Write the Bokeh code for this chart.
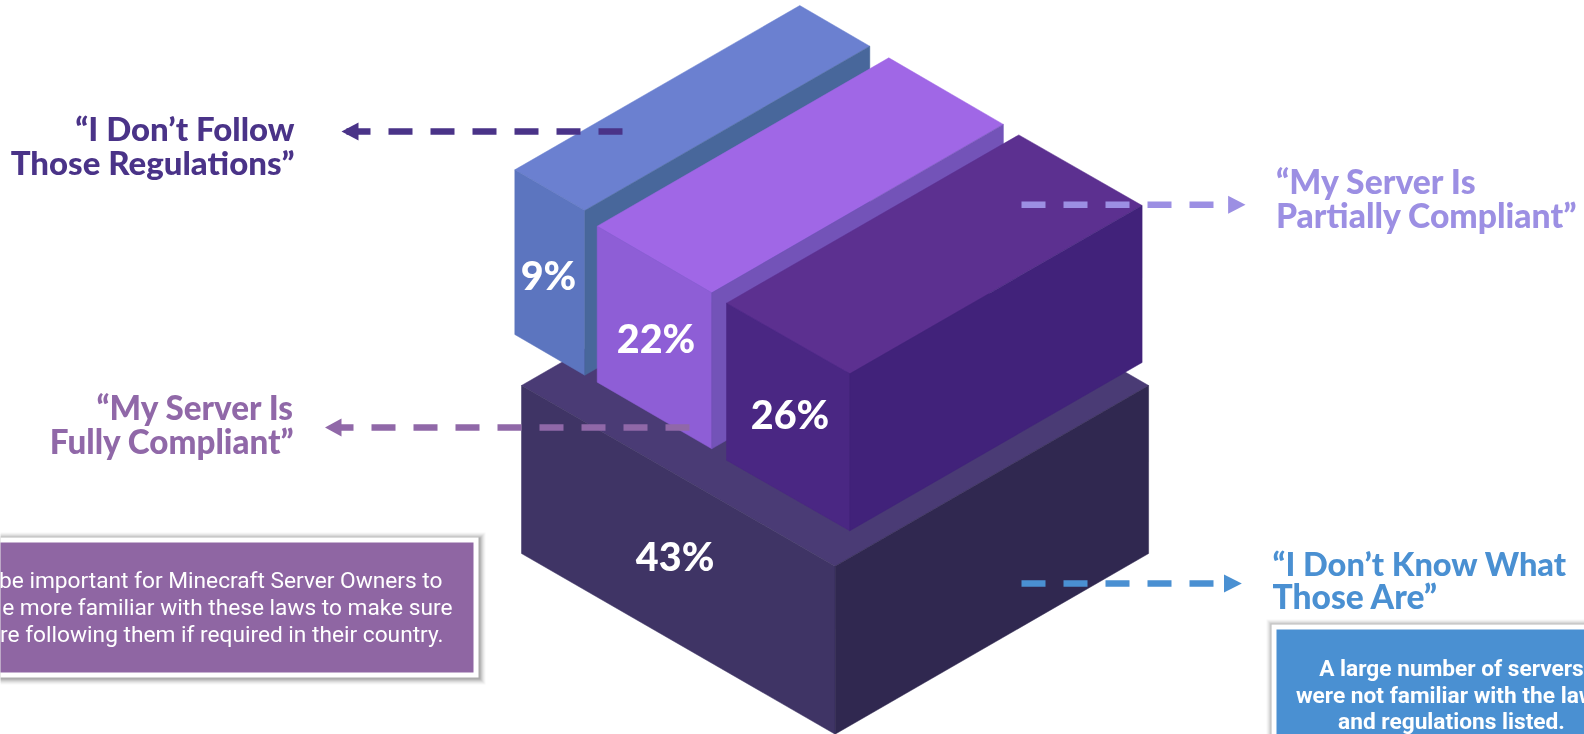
from bokeh.plotting import figure
from bokeh.models import Range1d, ColumnDataSource
from bokeh.embed import file_html
from bokeh.resources import INLINE
from bokeh.core.properties import value

# ---- data ----
categories = ["I Don't Know What Those Are", "I Don't Follow Those Regulations",
              "My Server Is Fully Compliant", "My Server Is Partially Compliant"]
shares = [43, 9, 22, 26]

# ---- block geometry (page pixels): left corner, front edge run, depth run, height ----
blk_lx = [521.0, 514.3, 596.7, 726.0]
blk_ly = [385.0, 169.3, 225.7, 302.7]
blk_wx = [313.6, 70.0, 114.6, 123.3]
blk_wy = [180.7, 40.7, 66.6, 70.6]
blk_dx = [313.5, 285.0, 291.6, 292.3]
blk_dy = [-180.7, -164.3, -168.4, -168.3]
blk_h = [168.0, 164.7, 156.0, 157.0]
col_top = ["#4a3b75", "#6b80d0", "#a067e6", "#5c3090"]
col_left = ["#3f3465", "#5c75bf", "#8e5ed6", "#4a2783"]
col_right = ["#302850", "#48679b", "#7353b8", "#41227a"]
pct_x = [674.6, 548.0, 655.5, 789.5]
pct_y = [568.3, 287.0, 350.0, 426.0]

W, H = 1584, 734
BASE_SHIFT = 0.33   # share of the font size by which the text sits below the given y

p = figure(width=W, height=H, output_backend="svg", toolbar_location=None,
           x_range=Range1d(0, W), y_range=Range1d(H, 0), min_border=0,
           x_axis_type=None, y_axis_type=None, outline_line_color=None,
           background_fill_color="white", border_fill_color="white")
p.grid.visible = False
p.styles = {"position": "fixed", "left": "0px", "top": "0px"}

# ---- isometric blocks ----
xs, ys, cs = [], [], []
for i in range(len(shares)):
    lx, ly, wx, wy, dx, dy, h = (blk_lx[i], blk_ly[i], blk_wx[i], blk_wy[i],
                                 blk_dx[i], blk_dy[i], blk_h[i])
    fx, fy = lx + wx, ly + wy
    xs += [[lx, fx, fx + dx, lx + dx], [lx, fx, fx, lx], [fx, fx + dx, fx + dx, fx]]
    ys += [[ly, fy, fy + dy, ly + dy], [ly, fy, fy + h, ly + h], [fy, fy + dy, fy + dy + h, fy + h]]
    cs += [col_top[i], col_left[i], col_right[i]]
p.patches(xs="xs", ys="ys", fill_color="cs", line_color="cs", line_width=0.5,
          source=ColumnDataSource(dict(xs=xs, ys=ys, cs=cs)))

# ---- text helper ----
def label(x, y, t, c, align, size, font="Lato Black", style="normal"):
    p.text(x=[x], y=[y - BASE_SHIFT * size], text=[t], text_color=c, text_font=value(font),
           text_font_style=style, text_font_size=f"{size}px", text_align=align,
           text_baseline="alphabetic")

# ---- percent labels ----
for px, py, v in zip(pct_x, pct_y, shares):
    label(px, py, f"{v}%", "white", "center", 39.5)

# ---- dashed leader arrows ----
arrows = [
    dict(y=131.0, x0=622, x1=346, tip=341, base=358, color="#4a3388"),
    dict(y=427.0, x0=689, x1=331, tip=324.5, base=341, color="#9068a8"),
    dict(y=204.3, x0=1021, x1=1213, tip=1245, base=1227.6, color="#9c8fe3"),
    dict(y=583.0, x0=1021, x1=1213, tip=1241.3, base=1223.5, color="#4a90d2"),
]
for a in arrows:
    p.line([a["x0"], a["x1"]], [a["y"], a["y"]], line_color=a["color"], line_width=6.5,
           line_dash="24 18", line_cap="butt")
    p.patch([a["tip"], a["base"], a["base"]], [a["y"], a["y"] - 9, a["y"] + 9],
            fill_color=a["color"], line_color=None)

# ---- heading texts ----
label(294, 138.5, "“I Don’t Follow", "#4a3388", "right", 33)
label(294, 172, "Those Regulations”", "#4a3388", "right", 33)
label(294, 417.2, "“My Server Is", "#9068a8", "right", 33.2)
label(294, 451, "Fully Compliant”", "#9068a8", "right", 33.2)
label(1275.5, 191.7, "“My Server Is", "#9c8fe3", "left", 33.7)
label(1275.5, 226, "Partially Compliant”", "#9c8fe3", "left", 33.7)
label(1272, 573.3, "“I Don’t Know What", "#4a90d2", "left", 32.6)
label(1272, 606.7, "Those Are”", "#4a90d2", "left", 33.6)

# ---- note boxes with soft shadow ----
def note(left, top, right, bottom, fill, border=5):
    for g, al in ((6, 0.03), (5, 0.04), (4, 0.05), (3, 0.06), (2, 0.08), (1, 0.1)):
        p.quad(left=left - g + 1, right=right + g + 1, top=top - g + 1, bottom=bottom + g + 1,
               fill_color="#000000", fill_alpha=al, line_color=None)
    p.quad(left=left, right=right, top=top, bottom=bottom, fill_color="white", line_color=None)
    p.quad(left=left + border, right=right - border, top=top + border, bottom=bottom - border,
           fill_color=fill, line_color=None)

note(-20, 537, 478, 677, "#8f66a3")
note(1271, 624, 1610, 760, "#4a90d2")

for rx, by, t in zip([442, 452, 443], [587, 614, 641],
                     ["be important for Minecraft Server Owners to",
                      "e more familiar with these laws to make sure",
                      "re following them if required in their country."]):
    label(rx, by, t, "white", "right", 22.7, font="Roboto")
for by, t in zip([675, 702, 728],
                 ["A large number of servers", "were not familiar with the laws", "and regulations listed."]):
    label(1451, by, t, "white", "center", 22.7, font="Roboto", style="bold")

open("out.html", "w").write(file_html(p, INLINE))
